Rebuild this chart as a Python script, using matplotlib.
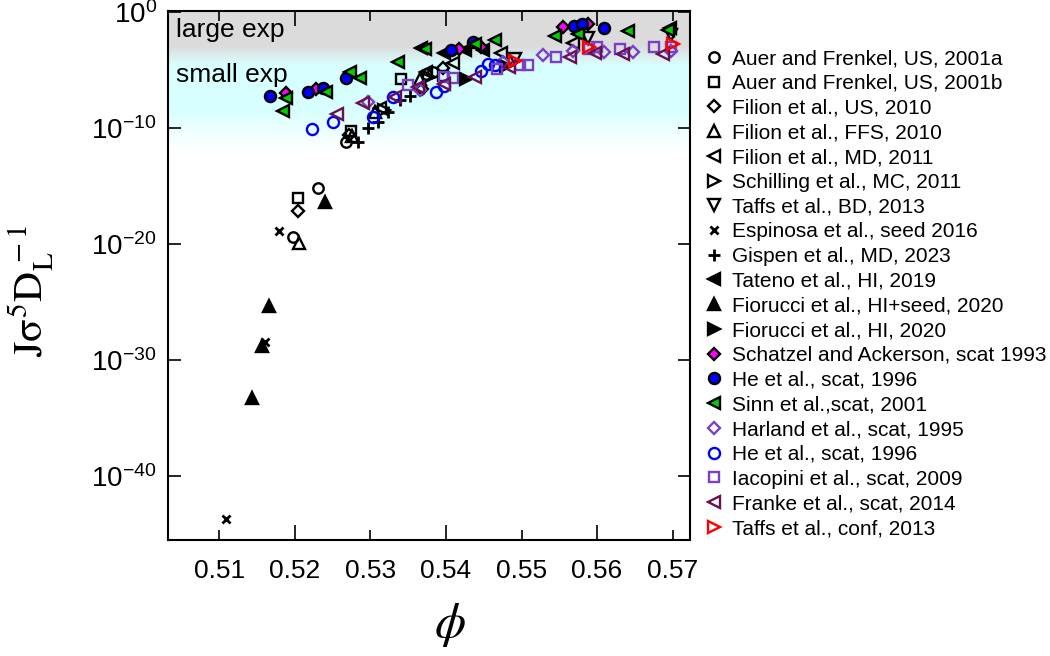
import numpy as np
import matplotlib.pyplot as plt
from matplotlib.ticker import FixedLocator, FormatStrFormatter, LogFormatterSciNotation, NullLocator

plt.rcParams['font.family'] = ['Liberation Sans', 'DejaVu Sans']
plt.rcParams['axes.unicode_minus'] = False

# packing fraction phi and log10(J sigma^5 / D_L)
auer_a_phi = [0.5198, 0.5230, 0.5268, 0.5374, 0.5383]
auer_a_logj = [-19.4, -15.15, -11.2, -5.35, -5.16]
auer_b_phi = [0.5204, 0.5274, 0.5341, 0.5396]
auer_b_logj = [-16.0, -10.2, -5.75, -5.5]
filion_us_phi = [0.5204, 0.5271, 0.5368, 0.5396]
filion_us_logj = [-17.1, -10.6, -6.66, -4.85]
filion_ffs_phi = [0.5205, 0.5276, 0.5306, 0.5365]
filion_ffs_logj = [-19.9, -10.7, -8.6, -5.8]
filion_md_phi = [0.5312, 0.5374, 0.5409, 0.5473, 0.5568]
filion_md_logj = [-8.27, -5.16, -4.40, -3.51, -2.65]
schilling_phi = [0.5318, 0.5378]
schilling_logj = [-8.4, -5.6]
taffs_bd_phi = [0.5492, 0.5588, 0.5698]
taffs_bd_logj = [-4.02, -2.2, -2.0]
espinosa_phi = [0.5109, 0.5160, 0.5179]
espinosa_logj = [-43.7, -28.4, -18.9]
gispen_phi = [0.5283, 0.5297, 0.5310, 0.5323, 0.5339, 0.5352]
gispen_logj = [-11.2, -9.97, -9.5, -8.6, -7.6, -7.2]
tateno_phi = [0.5367, 0.5398, 0.5425, 0.5449, 0.5696]
tateno_logj = [-3.05, -3.55, -3.3, -3.26, -1.39]
fior_seed_phi = [0.5143, 0.5157, 0.5166, 0.5240]
fior_seed_logj = [-33.3, -28.8, -25.3, -16.4]
fior_hi_phi = [0.5426, 0.5480]
fior_hi_logj = [-5.8, -4.6]
schatzel_phi = [0.5188, 0.5228, 0.5417, 0.5447, 0.5555, 0.5588]
schatzel_logj = [-6.95, -6.66, -3.17, -2.98, -1.3, -1.05]
he_fill_phi = [0.5167, 0.5218, 0.5237, 0.5268, 0.5407, 0.5436, 0.5570, 0.5580, 0.5609]
he_fill_logj = [-7.23, -6.86, -6.57, -5.67, -3.26, -2.6, -1.19, -0.99, -1.33]
sinn_phi = [0.5184, 0.5188, 0.5241, 0.5273, 0.5286, 0.5337, 0.5372, 0.5439, 0.5465,
            0.5544, 0.5575, 0.5641, 0.5694]
sinn_logj = [-8.56, -7.37, -6.86, -5.16, -5.67, -4.31, -3.17, -2.75, -2.41,
             -2.04, -1.9, -1.62, -1.56]
harland_phi = [0.5297, 0.5365, 0.5476, 0.5528, 0.5568, 0.5609, 0.5647, 0.5698]
harland_logj = [-7.71, -6.72, -4.31, -3.70, -3.35, -3.43, -3.46, -3.32]
he_open_phi = [0.5223, 0.5250, 0.5303, 0.5330, 0.5387, 0.5398, 0.5447, 0.5456, 0.5465]
he_open_logj = [-10.06, -9.47, -9.04, -7.29, -6.86, -6.35, -5.05, -4.5, -4.59]
iacopini_phi = [0.5350, 0.5398, 0.5409, 0.5467, 0.5498, 0.5509, 0.5546, 0.5590,
                0.5600, 0.5630, 0.5676, 0.5698]
iacopini_logj = [-6.24, -5.59, -5.67, -4.9, -4.53, -4.53, -3.89, -3.2,
                 -3.0, -3.17, -2.98, -2.98]
franke_phi = [0.5256, 0.5290, 0.5332, 0.5363, 0.5398, 0.5438, 0.5484, 0.5564,
              0.5597, 0.5634, 0.5687]
franke_logj = [-8.79, -7.85, -7.29, -6.49, -6.15, -5.59, -4.7, -3.89,
               -3.5, -3.6, -3.6]
taffs_conf_phi = [0.5491, 0.5590, 0.5701]
taffs_conf_logj = [-4.17, -3.0, -2.75]

purple = '#7b3fc6'
maroon = '#6a1152'

# label, phi, logJ, marker, face, edge, size
series = [
    ("Auer and Frenkel, US, 2001a", auer_a_phi, auer_a_logj, 'o', 'none', 'k', 7.5),
    ("Auer and Frenkel, US, 2001b", auer_b_phi, auer_b_logj, 's', 'none', 'k', 7),
    ("Filion et al., US, 2010", filion_us_phi, filion_us_logj, 'D', 'none', 'k', 6),
    ("Filion et al., FFS, 2010", filion_ffs_phi, filion_ffs_logj, '^', 'none', 'k', 8),
    ("Filion et al., MD, 2011", filion_md_phi, filion_md_logj, '<', 'none', 'k', 8),
    ("Schilling et al., MC, 2011", schilling_phi, schilling_logj, '>', 'none', 'k', 8),
    ("Taffs et al., BD, 2013", taffs_bd_phi, taffs_bd_logj, 'v', 'none', 'k', 8),
    ("Espinosa et al., seed 2016", espinosa_phi, espinosa_logj, 'x', 'k', 'k', 5.5),
    ("Gispen et al., MD, 2023", gispen_phi, gispen_logj, '+', 'k', 'k', 9),
    ("Tateno et al., HI, 2019", tateno_phi, tateno_logj, '<', 'k', 'k', 9),
    ("Fiorucci et al., HI+seed, 2020", fior_seed_phi, fior_seed_logj, '^', 'k', 'k', 9),
    ("Fiorucci et al., HI, 2020", fior_hi_phi, fior_hi_logj, '>', 'k', 'k', 9),
    ("Schatzel and Ackerson, scat 1993", schatzel_phi, schatzel_logj, 'D', '#ff00ff', 'k', 6),
    ("He et al., scat, 1996", he_fill_phi, he_fill_logj, 'o', '#0000ff', 'k', 8),
    ("Sinn et al.,scat, 2001", sinn_phi, sinn_logj, '<', '#00d000', 'k', 8),
    ("Harland et al., scat, 1995", harland_phi, harland_logj, 'D', 'none', purple, 6),
    ("He et al., scat, 1996", he_open_phi, he_open_logj, 'o', 'none', '#0000ff', 8),
    ("Iacopini et al., scat, 2009", iacopini_phi, iacopini_logj, 's', 'none', purple, 7.5),
    ("Franke et al., scat, 2014", franke_phi, franke_logj, '<', 'none', maroon, 8),
    ("Taffs et al., conf, 2013", taffs_conf_phi, taffs_conf_logj, '>', 'none', '#ff0000', 8),
]

fig = plt.figure(figsize=(10.5, 6.56), dpi=100)
ax = fig.add_axes([0.16, 0.1768, 0.4971, 0.8064])

ylog_lo, ylog_hi = -45.5, 0.1
ax.set_xlim(0.5032, 0.5723)
ax.set_yscale('log')
ax.set_ylim(10 ** ylog_lo, 10 ** ylog_hi)

# background: grey "large exp" band fading into light cyan "small exp" band
lv = np.linspace(ylog_lo, ylog_hi, 600)
stops = [ylog_lo, -11.8, -8.5, -4.5, -2.9, ylog_hi]
r = np.interp(lv, stops, [1, 1, 0.85, 0.85, 0.86, 0.86])
g = np.interp(lv, stops, [1, 1, 1.0, 1.0, 0.86, 0.86])
b = np.interp(lv, stops, [1, 1, 1.0, 1.0, 0.86, 0.86])
grad = np.dstack([r, g, b])[0][::-1][:, None, :]
ax.imshow(grad, extent=[0, 1, 0, 1], transform=ax.transAxes, aspect='auto',
          interpolation='bilinear', zorder=0)

for label, px, lj, m, fc, ec, ms in series:
    mew = 2 if m in ('x', '+') else 1.7
    ax.plot(px, 10.0 ** np.array(lj), ls='none', marker=m, ms=ms, mfc=fc, mec=ec,
            mew=mew, label=label, zorder=3)

ax.text(0.015, 0.964, "large exp", transform=ax.transAxes, fontsize=19, va='center')
ax.text(0.015, 0.879, "small exp", transform=ax.transAxes, fontsize=19, va='center')

ax.xaxis.set_major_locator(FixedLocator([0.52, 0.54, 0.56]))
ax.xaxis.set_minor_locator(FixedLocator([0.51, 0.53, 0.55, 0.57]))
ax.xaxis.set_major_formatter(FormatStrFormatter('%.2f'))
ax.xaxis.set_minor_formatter(FormatStrFormatter('%.2f'))
ax.yaxis.set_major_locator(FixedLocator([1e-40, 1e-30, 1e-20, 1e-10, 1e0]))
ax.yaxis.set_major_formatter(LogFormatterSciNotation())
ax.yaxis.set_minor_locator(NullLocator())

ax.tick_params(axis='x', which='major', direction='in', top=True, length=11, width=1.2,
               labelsize=19, pad=14)
ax.tick_params(axis='x', which='minor', direction='in', top=True, length=7, width=1.2,
               labelsize=19, pad=14)
ax.tick_params(axis='y', which='major', direction='in', right=True, length=9, width=1.2,
               labelsize=20, pad=8)
for s in ax.spines.values():
    s.set_linewidth(1.5)

ax.set_xlabel(r'$\mathit{\phi}$', fontsize=36, math_fontfamily='stix')
ax.xaxis.set_label_coords(0.54, -0.115)
ax.set_ylabel(r'$\mathrm{J\sigma^{5}D_{L}^{\,-1}}$', fontsize=30, math_fontfamily='stix')
ax.yaxis.set_label_coords(-0.215, 0.47)

fig.legend(loc='upper left', bbox_to_anchor=(0.6724, 0.925), frameon=False,
           fontsize=15, labelspacing=0.275, handlelength=0.8, handletextpad=0.45,
           borderpad=0, borderaxespad=0, numpoints=1)

fig.savefig('out.png', dpi=100)
